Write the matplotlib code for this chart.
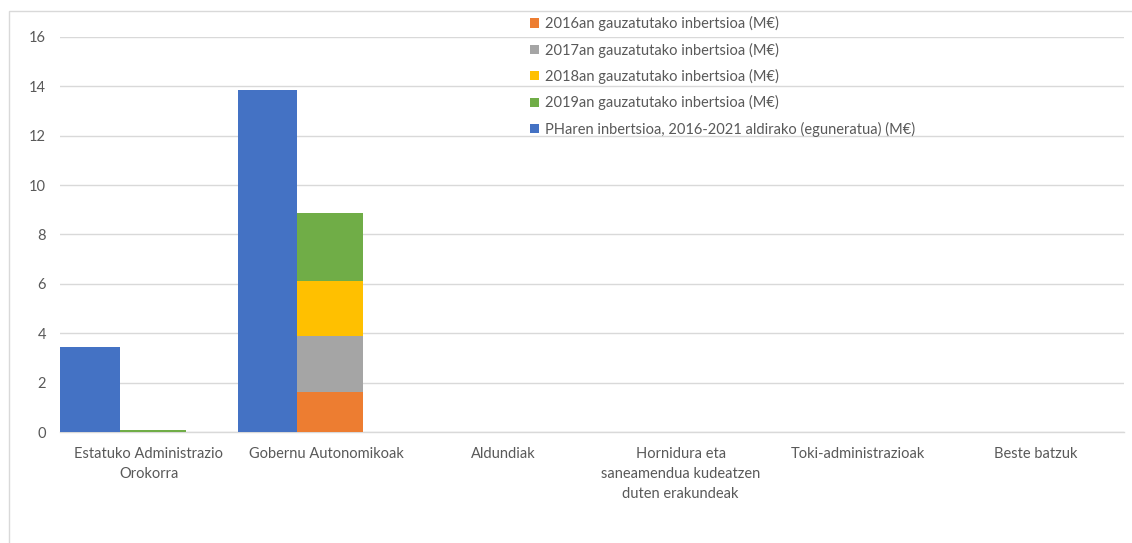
import numpy as np
import matplotlib
matplotlib.use("Agg")
import matplotlib.pyplot as plt
from matplotlib.patches import Patch, Rectangle

### DATA ###

categories = [
    "Estatuko Administrazio\nOrokorra",
    "Gobernu Autonomikoak",
    "Aldundiak",
    "Hornidura eta\nsaneamendua kudeatzen\nduten erakundeak",
    "Toki-administrazioak",
    "Beste batzuk",
]
plan_total = [3.45, 13.86, 0, 0, 0, 0]
inv_2016 = [0, 1.62, 0, 0, 0, 0]
inv_2017 = [0, 2.27, 0, 0, 0, 0]
inv_2018 = [0, 2.22, 0, 0, 0, 0]
inv_2019 = [0.1, 2.77, 0, 0, 0, 0]

labels = [
    "2016an gauzatutako inbertsioa (M€)",
    "2017an gauzatutako inbertsioa (M€)",
    "2018an gauzatutako inbertsioa (M€)",
    "2019an gauzatutako inbertsioa (M€)",
    "PHaren inbertsioa, 2016-2021 aldirako (eguneratua) (M€)",
]
colors = ["#ED7D31", "#A5A5A5", "#FFC000", "#70AD47", "#4472C4"]
text_color = "#595959"
grid_color = "#D9D9D9"

plt.rcParams["font.family"] = ["Lato", "DejaVu Sans"]

### PLOT ###

fig = plt.figure(figsize=(11.32, 5.43), dpi=100)
ax = fig.add_axes([60 / 1132, 1 - 432 / 543, (1124 - 60) / 1132, (432 - 37) / 543])

x = np.arange(len(categories))
# blue bar in the left third of the category slot, stacked bar next to it
ax.bar(x - 0.5 + 0.17, plan_total, width=0.335, color=colors[4], zorder=3)
bottom = np.zeros(len(categories))
for vals, c in zip([inv_2016, inv_2017, inv_2018, inv_2019], colors[:4]):
    ax.bar(x - 0.5 + 0.5235, vals, width=0.375, bottom=bottom, color=c, zorder=3)
    bottom += np.array(vals)

ax.set_xlim(-0.5, len(categories) - 0.5)
ax.set_ylim(0, 16)
ax.set_yticks(range(0, 17, 2))
ax.yaxis.grid(True, color=grid_color, linewidth=1.0, zorder=0)
ax.set_axisbelow(True)
for side in ["top", "right", "left"]:
    ax.spines[side].set_visible(False)
ax.spines["bottom"].set_color(grid_color)
ax.spines["bottom"].set_linewidth(1.0)
ax.tick_params(axis="both", length=0, colors=text_color, labelsize=10.5)
ax.tick_params(axis="y", pad=10)
ax.tick_params(axis="x", pad=11)
ax.set_xticks(x)
ax.set_xticklabels(categories, linespacing=1.55)

handles = [Patch(facecolor=c, edgecolor="none") for c in colors]
fig.legend(
    handles, labels,
    loc="upper left", bbox_to_anchor=(530 / 1132, 1 - 16 / 543),
    frameon=False, fontsize=10.5, labelcolor=text_color,
    handlelength=0.6, handleheight=0.6, handletextpad=0.4,
    labelspacing=0.78, borderaxespad=0, borderpad=0,
)

# light chart border (Excel chart area)
fig.patches.append(Rectangle((8.5 / 1132, -0.1), 1.2, 1.1 - 11 / 543,
                             transform=fig.transFigure, fill=False,
                             edgecolor=grid_color, linewidth=1.0))

plt.savefig("out.png", dpi=100)
